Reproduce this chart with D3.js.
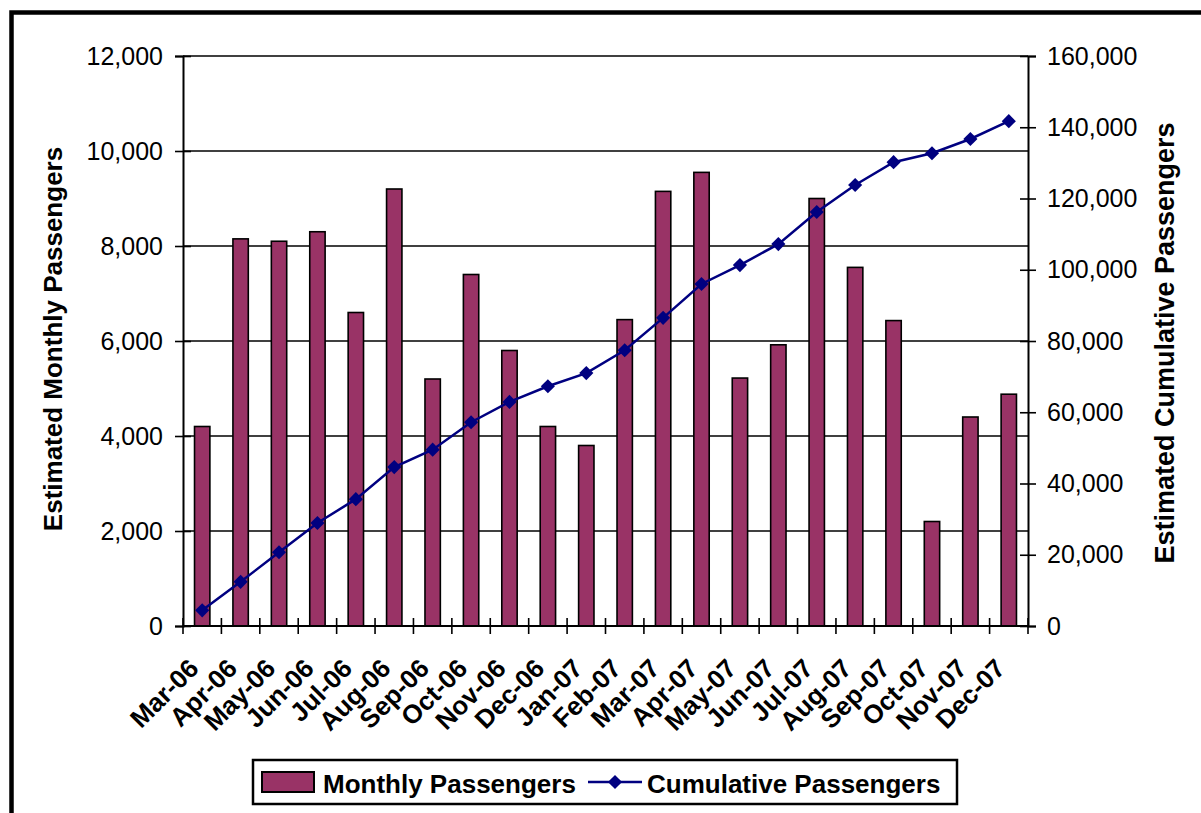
<!DOCTYPE html>
<html>
<head>
<meta charset="utf-8">
<script src="https://cdn.jsdelivr.net/npm/d3@7"></script>
<style>
  body { margin: 0; background: #fff; }
  svg { display: block; font-family: "Liberation Sans", Arial, sans-serif; }
</style>
</head>
<body>
<div id="chart"></div>
<script>
const months = ["Mar-06", "Apr-06", "May-06", "Jun-06", "Jul-06", "Aug-06", "Sep-06", "Oct-06",
  "Nov-06", "Dec-06", "Jan-07", "Feb-07", "Mar-07", "Apr-07", "May-07", "Jun-07", "Jul-07",
  "Aug-07", "Sep-07", "Oct-07", "Nov-07", "Dec-07"];
const monthly = [4200, 8150, 8100, 8300, 6600, 9200, 5200, 7400, 5800, 4200, 3800, 6450,
  9150, 9550, 5220, 5920, 9000, 7550, 6430, 2200, 4400, 4880];
const cumulative = [4400, 12400, 20700, 28900, 35600, 44600, 49500, 57200, 62900, 67300, 71000,
  77400, 86500, 96000, 101300, 107200, 116200, 123800, 130200, 132700, 136700, 141700];
const leftTicks = [0, 2000, 4000, 6000, 8000, 10000, 12000];
const rightTicks = [0, 20000, 40000, 60000, 80000, 100000, 120000, 140000, 160000];
const seriesNames = ["Monthly Passengers", "Cumulative Passengers"];

const width = 1201;
const height = 813;
const plot = {left: 183, right: 1028, top: 56, bottom: 626};
const barColor = "#993366";
const lineColor = "#000080";

const svg = d3.select("#chart").append("svg")
    .attr("width", width)
    .attr("height", height);

svg.append("rect")
    .attr("width", width).attr("height", height)
    .attr("fill", "#fff");

// outer frame, cut off at right and bottom like the original
svg.append("rect")
    .attr("x", 11.5).attr("y", 12.5)
    .attr("width", 1400).attr("height", 1000)
    .attr("fill", "none")
    .attr("stroke", "#000")
    .attr("stroke-width", 4.5);

const x = d3.scaleBand().domain(months).range([plot.left, plot.right]);
const yL = d3.scaleLinear().domain([0, 12000]).range([plot.bottom, plot.top]);
const yR = d3.scaleLinear().domain([0, 160000]).range([plot.bottom, plot.top]);
const barW = x.bandwidth() / 2.5;

// gridlines
svg.append("g")
    .selectAll("line")
    .data(leftTicks.filter(d => d > 0))
    .join("line")
    .attr("x1", plot.left).attr("x2", plot.right)
    .attr("y1", d => yL(d)).attr("y2", d => yL(d))
    .attr("stroke", "#000")
    .attr("stroke-width", 1.6);

// bars
svg.append("g")
    .selectAll("rect")
    .data(monthly)
    .join("rect")
    .attr("x", (d, i) => x(months[i]) + (x.bandwidth() - barW) / 2)
    .attr("y", d => yL(d))
    .attr("width", barW)
    .attr("height", d => yL(0) - yL(d))
    .attr("fill", barColor)
    .attr("stroke", "#000")
    .attr("stroke-width", 1.6);

// left axis
const gl = svg.append("g")
    .attr("transform", "translate(" + plot.left + ",0)")
    .call(d3.axisLeft(yL).tickValues(leftTicks).tickSize(8).tickPadding(12)
      .tickFormat(d3.format(",")));
gl.selectAll(".tick line").attr("x1", 8).attr("stroke-width", 1.6);
gl.select(".domain").attr("stroke-width", 2);
gl.selectAll("text").attr("font-size", 25).attr("font-family", "Liberation Sans, Arial").attr("fill", "#000");

// right axis
const gr = svg.append("g")
    .attr("transform", "translate(" + plot.right + ",0)")
    .call(d3.axisRight(yR).tickValues(rightTicks).tickSize(8).tickPadding(11)
      .tickFormat(d3.format(",")));
gr.selectAll(".tick line").attr("x1", -8).attr("stroke-width", 1.6);
gr.select(".domain").attr("stroke-width", 2);
gr.selectAll("text").attr("font-size", 25).attr("font-family", "Liberation Sans, Arial").attr("fill", "#000");

// bottom axis line and boundary ticks
const bounds = months.map(m => x(m)).concat([plot.right]);
svg.append("line")
    .attr("x1", plot.left).attr("x2", plot.right)
    .attr("y1", plot.bottom).attr("y2", plot.bottom)
    .attr("stroke", "#000").attr("stroke-width", 2.2);
svg.append("g")
    .selectAll("line")
    .data(bounds)
    .join("line")
    .attr("x1", d => d).attr("x2", d => d)
    .attr("y1", plot.bottom - 8).attr("y2", plot.bottom + 8)
    .attr("stroke", "#000").attr("stroke-width", 1.6);

// category labels
const gx = svg.append("g")
    .attr("transform", "translate(0," + plot.bottom + ")")
    .call(d3.axisBottom(x).tickSize(0).tickPadding(0));
gx.select(".domain").remove();
gx.selectAll(".tick text")
    .attr("font-size", 26)
    .attr("font-weight", "bold")
    .attr("font-family", "Liberation Sans, Arial")
    .attr("fill", "#000")
    .attr("text-anchor", "end")
    .attr("dy", 0)
    .attr("transform", "translate(-2,44) rotate(-45)");

// cumulative line
const line = d3.line()
    .x((d, i) => x(months[i]) + x.bandwidth() / 2)
    .y(d => yR(d));
svg.append("path")
    .attr("d", line(cumulative))
    .attr("fill", "none")
    .attr("stroke", lineColor)
    .attr("stroke-width", 2.5);

const diamond = d3.symbol().type(d3.symbolSquare).size(100);
svg.append("g")
    .selectAll("path")
    .data(cumulative)
    .join("path")
    .attr("d", diamond)
    .attr("transform", (d, i) => "translate(" + (x(months[i]) + x.bandwidth() / 2) + "," + yR(d) + ") rotate(45)")
    .attr("fill", lineColor);

// axis titles
svg.append("text")
    .attr("transform", "translate(62,339) rotate(-90)")
    .attr("text-anchor", "middle")
    .attr("font-size", 26)
    .attr("font-weight", "bold")
    .text("Estimated Monthly Passengers");

svg.append("text")
    .attr("transform", "translate(1174,343) rotate(-90)")
    .attr("text-anchor", "middle")
    .attr("font-size", 27)
    .attr("font-weight", "bold")
    .text("Estimated Cumulative Passengers");

// legend
const lg = svg.append("g");
lg.append("rect")
    .attr("x", 253).attr("y", 760)
    .attr("width", 704).attr("height", 44)
    .attr("fill", "#fff")
    .attr("stroke", "#000")
    .attr("stroke-width", 2.5);
lg.append("rect")
    .attr("x", 262).attr("y", 772)
    .attr("width", 52).attr("height", 20)
    .attr("fill", barColor)
    .attr("stroke", "#000")
    .attr("stroke-width", 2);
lg.append("text")
    .attr("x", 323).attr("y", 793)
    .attr("font-size", 26)
    .attr("font-weight", "bold")
    .text(seriesNames[0]);
lg.append("line")
    .attr("x1", 588).attr("x2", 642)
    .attr("y1", 782).attr("y2", 782)
    .attr("stroke", lineColor)
    .attr("stroke-width", 2.5);
lg.append("path")
    .attr("d", diamond)
    .attr("transform", "translate(615,782) rotate(45)")
    .attr("fill", lineColor);
lg.append("text")
    .attr("x", 647).attr("y", 793)
    .attr("font-size", 26)
    .attr("font-weight", "bold")
    .text(seriesNames[1]);
</script>
</body>
</html>
